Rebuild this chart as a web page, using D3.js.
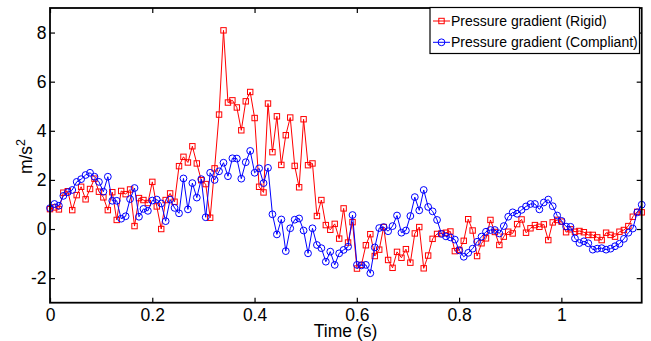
<!DOCTYPE html>
<html>
<head>
<meta charset="utf-8">
<script src="https://cdnjs.cloudflare.com/ajax/libs/d3/7.8.5/d3.min.js"></script>
<style>
  html, body { margin: 0; padding: 0; background: #fff; }
  svg { display: block; font-family: "Liberation Sans", Arial, Helvetica, sans-serif; }
</style>
</head>
<body>
<div id="chart"></div>
<script>
// sample step (s) shared by both series
const dt = 0.0087;

// Pressure gradient, rigid wall (m/s^2)
const rigid = [
  0.81, 0.88, 0.80, 1.48, 1.54, 0.77, 1.38, 1.72, 1.21, 1.63,
  2.05, 1.52, 1.29, 0.77, 1.50, 0.37, 1.55, 1.42, 1.61, 0.12,
  1.26, 1.18, 1.06, 1.92, 0.92, 0.00, 1.18, 1.45, 1.11, 2.56,
  2.94, 2.71, 3.37, 2.67, 1.99, 1.83, 0.46, 2.47, 4.66, 8.09,
  5.15, 5.24, 4.95, 4.02, 5.20, 5.58, 4.52, 1.72, 1.49, 5.11,
  3.13, 4.59, 2.61, 3.82, 4.54, 2.57, 1.70, 4.47, 2.60, 2.67,
  0.53, 1.18, 0.16, -0.03, 0.21, -0.39, 0.84, -0.55, 0.28, -1.61,
  -1.46, -0.66, -0.21, -1.10, -0.84, 0.08, -1.26, -1.58, -0.93, -1.17,
  -0.82, -1.37, -0.18, 0.08, -1.60, -1.08, -0.40, -0.20, -0.18, -0.15,
  -0.10, -0.90, -0.85, -0.48, 0.40, -0.06, -1.10, -0.58, -0.38, 0.37,
  -0.12, -0.65, -0.31, -0.11, -0.18, 0.20, 0.39, -0.15, 0.03, 0.16,
  0.09, 0.19, -0.45, 0.27, 0.37, 0.30, -0.13, -0.01, -0.11, -0.08,
  -0.13, -0.24, -0.24, -0.34, -0.45, -0.15, -0.24, -0.31, -0.11, -0.04,
  0.12, 0.50, 0.70, 0.68
];

// Pressure gradient, compliant wall (m/s^2)
const compliant = [
  0.85, 1.02, 0.95, 1.35, 1.50, 1.59, 1.92, 2.03, 2.20, 2.29,
  2.13, 1.92, 1.52, 2.13, 1.15, 1.15, 0.42, 0.52, 1.22, 1.67,
  0.50, 0.82, 0.74, 1.16, 1.20, 1.04, 0.32, 1.20, 0.86, 0.64,
  2.06, 0.80, 1.87, 1.28, 2.03, 0.48, 2.29, 2.00, 2.35, 2.70,
  2.15, 2.88, 2.87, 2.05, 2.72, 3.18, 2.29, 2.47, 1.87, 2.49,
  0.60, -0.22, 0.39, -0.90, 0.03, 0.38, 0.43, -0.06, -0.99, 0.03,
  -0.65, -0.78, -1.33, -0.92, -1.46, -0.99, -0.85, -0.72, 0.57, -1.46,
  -1.48, -1.46, -1.80, -0.75, 0.04, 0.08, -0.09, 0.12, 0.55, -0.15,
  -0.06, 0.53, 1.30, 0.76, 1.59, 0.90, 0.72, 0.37, -0.20, -0.30,
  -0.34, -0.43, -0.87, -1.13, -0.97, -0.80, -0.52, -0.31, -0.11, -0.04,
  -0.04, -0.18, 0.12, 0.50, 0.68, 0.62, 0.78, 0.92, 1.02, 1.02,
  0.80, 1.08, 1.20, 0.93, 0.55, 0.33, 0.10, 0.09, -0.38, -0.57,
  -0.50, -0.58, -0.84, -0.80, -0.78, -0.84, -0.80, -0.70, -0.60, -0.40,
  -0.15, 0.02, 0.68, 0.99
];

const xTicks = [0, 0.2, 0.4, 0.6, 0.8, 1];
const yTicks = [-2, 0, 2, 4, 6, 8];
const seriesNames = ['Pressure gradient (Rigid)', 'Pressure gradient (Compliant)'];
const seriesColors = ['#ff0000', '#0000ff'];

const W = 651, H = 341;
const margin = {top: 8, right: 9.3, bottom: 38.3, left: 50};
const iw = W - margin.left - margin.right;
const ih = H - margin.top - margin.bottom;

const svg = d3.select('#chart').append('svg')
  .attr('width', W)
  .attr('height', H);

const g = svg.append('g')
  .attr('transform', `translate(${margin.left},${margin.top})`);

const tMax = (rigid.length - 1) * dt;
const x = d3.scaleLinear().domain([0, tMax]).range([0, iw]);
const y = d3.scaleLinear().domain([-3, 9]).range([ih, 0]);

const fmt = d => String(+d.toFixed(1));

// axes: inward ticks on all four sides, labels on bottom/left only
const tickLen = 5;
g.append('g')
  .attr('transform', `translate(0,${ih})`)
  .call(d3.axisBottom(x).tickValues(xTicks).tickFormat(fmt).tickSizeInner(-tickLen).tickSizeOuter(0).tickPadding(6))
  .call(a => a.select('.domain').remove());
g.append('g')
  .call(d3.axisTop(x).tickValues(xTicks).tickFormat('').tickSizeInner(-tickLen).tickSizeOuter(0))
  .call(a => a.select('.domain').remove());
g.append('g')
  .call(d3.axisLeft(y).tickValues(yTicks).tickFormat(d => String(d)).tickSizeInner(-tickLen).tickSizeOuter(0).tickPadding(3.5))
  .call(a => a.select('.domain').remove());
g.append('g')
  .attr('transform', `translate(${iw},0)`)
  .call(d3.axisRight(y).tickValues(yTicks).tickFormat('').tickSizeInner(-tickLen).tickSizeOuter(0))
  .call(a => a.select('.domain').remove());

g.selectAll('.tick line').attr('stroke', '#000').attr('stroke-width', 1.2);
g.selectAll('.tick text')
  .attr('fill', '#000')
  .style('font-size', '17.5px')
  .style('font-family', '"Liberation Sans", Arial, sans-serif');

// series
const line = d3.line()
  .x((d, i) => x(i * dt))
  .y(d => y(d));

const sq = 5.4, cr = 3.4;

function drawSeries(data, color, kind) {
  const s = g.append('g');
  s.append('path')
    .datum(data)
    .attr('fill', 'none')
    .attr('stroke', color)
    .attr('stroke-width', 1)
    .attr('d', line);
  if (kind === 'square') {
    s.selectAll('rect').data(data).enter().append('rect')
      .attr('x', (d, i) => x(i * dt) - sq / 2)
      .attr('y', d => y(d) - sq / 2)
      .attr('width', sq)
      .attr('height', sq)
      .attr('fill', 'none')
      .attr('stroke', color)
      .attr('stroke-width', 1);
  } else {
    s.selectAll('circle').data(data).enter().append('circle')
      .attr('cx', (d, i) => x(i * dt))
      .attr('cy', d => y(d))
      .attr('r', cr)
      .attr('fill', 'none')
      .attr('stroke', color)
      .attr('stroke-width', 1);
  }
}
drawSeries(rigid, seriesColors[0], 'square');
drawSeries(compliant, seriesColors[1], 'circle');

// box
g.append('rect')
  .attr('x', 0).attr('y', 0)
  .attr('width', iw).attr('height', ih)
  .attr('fill', 'none')
  .attr('stroke', '#000')
  .attr('stroke-width', 1.8);

// axis titles
svg.append('text')
  .attr('x', 345.5)
  .attr('y', 336.5)
  .attr('text-anchor', 'middle')
  .style('font-size', '17.5px')
  .text('Time (s)');

const yl = svg.append('text')
  .attr('transform', 'translate(32,156.5) rotate(-90)')
  .attr('text-anchor', 'middle')
  .style('font-size', '17.5px');
yl.append('tspan').text('m/s');
yl.append('tspan').attr('dy', -7).style('font-size', '12.5px').text('2');

// legend
const lg = svg.append('g').attr('transform', 'translate(430,7.5)');
lg.append('rect')
  .attr('width', 209.5)
  .attr('height', 46)
  .attr('fill', '#fff')
  .attr('stroke', '#000')
  .attr('stroke-width', 1.2);
seriesNames.forEach((name, k) => {
  const cy = 13.5 + k * 21.3;
  const row = lg.append('g').attr('transform', `translate(0,${cy})`);
  row.append('line')
    .attr('x1', 3).attr('x2', 20)
    .attr('stroke', seriesColors[k]).attr('stroke-width', 1);
  if (k === 0) {
    row.append('rect')
      .attr('x', 11.5 - sq / 2).attr('y', -sq / 2)
      .attr('width', sq).attr('height', sq)
      .attr('fill', 'none').attr('stroke', seriesColors[k]);
  } else {
    row.append('circle')
      .attr('cx', 11.5).attr('r', cr)
      .attr('fill', 'none').attr('stroke', seriesColors[k]);
  }
  row.append('text')
    .attr('x', 21)
    .attr('dy', '0.35em')
    .style('font-size', '14px')
    .text(name);
});
</script>
</body>
</html>
